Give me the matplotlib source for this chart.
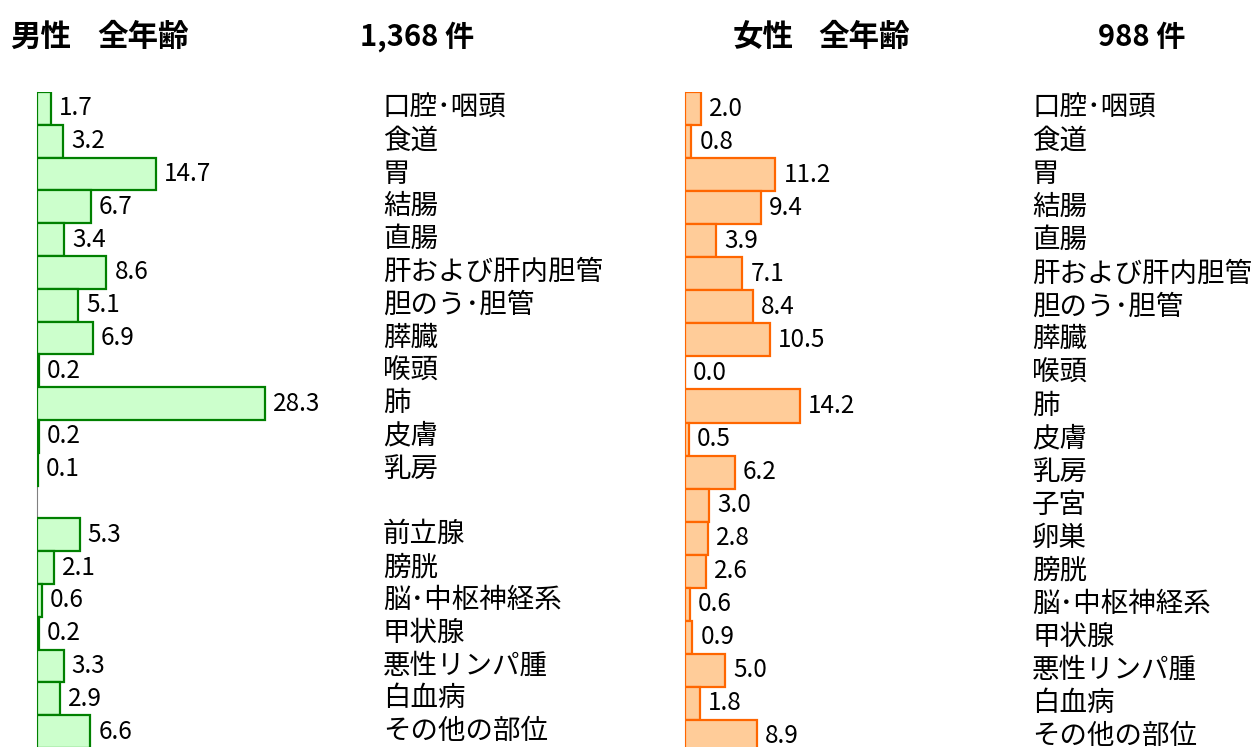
import matplotlib
matplotlib.use("Agg")
import matplotlib.pyplot as plt
import matplotlib.transforms as mtransforms

plt.rcParams['font.family'] = ['Noto Sans CJK JP', 'DejaVu Sans']

male_categories = ["口腔･咽頭", "食道", "胃", "結腸", "直腸", "肝および肝内胆管", "胆のう･胆管",
                   "膵臓", "喉頭", "肺", "皮膚", "乳房", "", "前立腺", "膀胱", "脳･中枢神経系",
                   "甲状腺", "悪性リンパ腫", "白血病", "その他の部位"]
male_values = [1.7, 3.2, 14.7, 6.7, 3.4, 8.6, 5.1, 6.9, 0.2, 28.3, 0.2, 0.1, None,
               5.3, 2.1, 0.6, 0.2, 3.3, 2.9, 6.6]

female_categories = ["口腔･咽頭", "食道", "胃", "結腸", "直腸", "肝および肝内胆管", "胆のう･胆管",
                     "膵臓", "喉頭", "肺", "皮膚", "乳房", "子宮", "卵巣", "膀胱", "脳･中枢神経系",
                     "甲状腺", "悪性リンパ腫", "白血病", "その他の部位"]
female_values = [2.0, 0.8, 11.2, 9.4, 3.9, 7.1, 8.4, 10.5, 0.0, 14.2, 0.5, 6.2, 3.0, 2.8,
                 2.6, 0.6, 0.9, 5.0, 1.8, 8.9]

male_title = ("男性", "全年齢", "1,368 件")
female_title = ("女性", "全年齢", "988 件")

W, H = 1254, 747
fig = plt.figure(figsize=(W / 100, H / 100), dpi=100)

PX_PER_UNIT = 8.07


def make_panel(left_px, top_px, row_h, cats, vals, face, edge, label_x_px, title, title_x):
    n = len(cats)
    height_px = n * row_h
    width_px = 320
    bottom_px = H - top_px - height_px
    ax = fig.add_axes([left_px / W, bottom_px / H, width_px / W, height_px / H])
    ax.set_xlim(0, width_px / PX_PER_UNIT)
    ax.set_ylim(n - 0.5, -0.5)
    for i, v in enumerate(vals):
        if v is None:
            continue
        ax.barh(i, v, height=1.0, color=face, edgecolor=edge, linewidth=1.6, zorder=2)
        ax.annotate(f"{v:.1f}", xy=(v, i), xytext=(8, 0), textcoords="offset pixels",
                    ha="left", va="center", fontsize=17.5, color="black", zorder=3)
    for s in ["top", "right", "bottom"]:
        ax.spines[s].set_visible(False)
    ax.spines["left"].set_color("#808080")
    ax.spines["left"].set_linewidth(0.8)
    ax.spines["left"].set_zorder(1)
    ax.set_xticks([])
    ax.set_yticks([])
    ax.patch.set_alpha(0)
    trans = mtransforms.blended_transform_factory(fig.transFigure, ax.transData)
    for i, c in enumerate(cats):
        if c:
            ax.text(label_x_px / W, i, c, transform=trans, ha="left", va="center",
                    fontsize=19.8, color="black", clip_on=False)
    # titles
    t_y = 1 - 37 / H
    fig.text(title_x[0] / W, t_y, title[0], ha="left", va="center", fontsize=22,
             fontweight="bold")
    fig.text(title_x[1] / W, t_y, title[1], ha="left", va="center", fontsize=22,
             fontweight="bold")
    fig.text(title_x[2] / W, t_y, title[2], ha="left", va="center", fontsize=21,
             fontweight="bold")
    return ax


make_panel(37, 92, 32.8, male_categories, male_values, "#ccffcc", "#008000",
           383, male_title, (10, 97, 360))
make_panel(685, 92, 33.05, female_categories, female_values, "#ffcc99", "#ff6600",
           1032, female_title, (733, 818, 1098))

fig.savefig("out.png", dpi=100)
